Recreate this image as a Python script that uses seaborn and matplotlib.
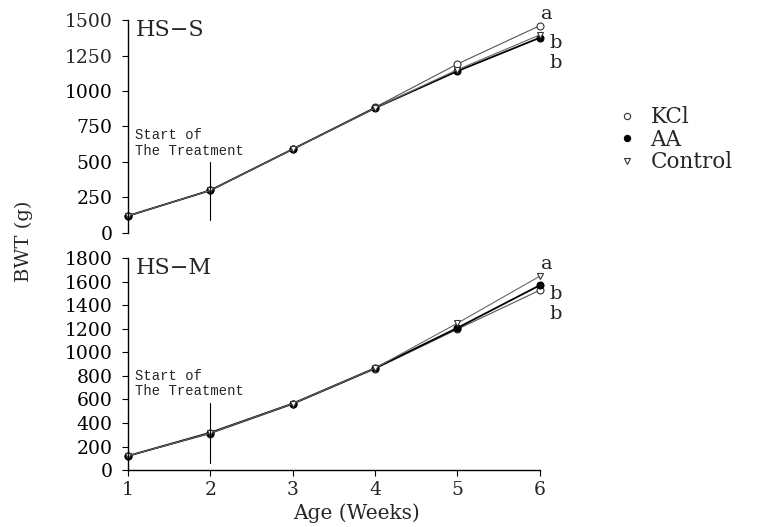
import matplotlib
matplotlib.use("Agg")
import matplotlib.pyplot as plt
from matplotlib.lines import Line2D
import seaborn as sns
import pandas as pd

weeks = [1, 2, 3, 4, 5, 6]
hss_kcl = [120, 300, 590, 885, 1190, 1460]
hss_aa = [120, 300, 590, 880, 1140, 1375]
hss_control = [120, 300, 590, 880, 1150, 1395]
hsm_kcl = [120, 310, 560, 860, 1197, 1528]
hsm_aa = [120, 318, 565, 866, 1208, 1570]
hsm_control = [120, 315, 565, 866, 1248, 1647]
series_names = ["KCl", "AA", "Control"]
hss_letters = ["a", "b", "b"]
hsm_letters = ["a", "b", "b"]

sns.set_theme(style="white")
plt.rcParams['font.family'] = ['DejaVu Serif', 'DejaVu Sans']

fig = plt.figure(figsize=(7.8, 5.27), dpi=100)
ax1 = fig.add_axes([0.164, 0.558, 0.528, 0.404])
ax2 = fig.add_axes([0.164, 0.108, 0.528, 0.402])

styles = {
    "KCl": dict(color="#555555", lw=0.8, marker="o", mfc="white", mec="#333333", ms=5, mew=0.8),
    "AA": dict(color="black", lw=1.3, marker="o", mfc="black", mec="black", ms=5, mew=0.8),
    "Control": dict(color="#666666", lw=0.8, marker="v", mfc="white", mec="#333333", ms=5, mew=0.8),
}

def draw(ax, vals):
    for name, v in zip(series_names, vals):
        df = pd.DataFrame({"Week": weeks, "BWT": v})
        st = styles[name]
        sns.lineplot(data=df, x="Week", y="BWT", ax=ax, color=st["color"], linewidth=st["lw"],
                     marker=st["marker"], markerfacecolor=st["mfc"], markeredgecolor=st["mec"],
                     markersize=st["ms"], markeredgewidth=st["mew"], clip_on=False, legend=False)

draw(ax1, [hss_kcl, hss_aa, hss_control])
draw(ax2, [hsm_kcl, hsm_aa, hsm_control])

for ax in (ax1, ax2):
    ax.set_xlim(1, 6)
    ax.spines['top'].set_visible(False)
    ax.spines['right'].set_visible(False)
    ax.spines['left'].set_linewidth(1.0)
    ax.spines['left'].set_color('black')
    ax.set_xlabel("")
    ax.set_ylabel("")
    ax.tick_params(axis='y', direction='out', length=4, width=0.8, color='black', labelsize=13.5, pad=7, left=True)
    for lab in ax.get_yticklabels():
        lab.set_color('black')

ax1.set_ylim(0, 1500)
ax1.set_yticks([0, 250, 500, 750, 1000, 1250, 1500])
ax1.spines['bottom'].set_visible(False)
ax1.set_xticks([])
ax2.set_ylim(0, 1800)
ax2.set_yticks(range(0, 1801, 200))
ax2.spines['bottom'].set_linewidth(1.0)
ax2.spines['bottom'].set_color('black')
ax2.set_xticks(weeks)
ax2.tick_params(axis='x', direction='out', length=4, width=0.8, color='black', labelsize=13.5, pad=4, bottom=True)

# treatment markers
ax1.plot([2, 2], [90, 500], color='black', lw=0.8)
ax2.plot([2, 2], [60, 570], color='black', lw=0.8)
ax1.text(1.09, 640, "Start of", fontsize=10, va='bottom', ha='left', family=['Liberation Mono'])
ax1.text(1.09, 530, "The Treatment", fontsize=10, va='bottom', ha='left', family=['Liberation Mono'])
ax2.text(1.09, 740, "Start of", fontsize=10, va='bottom', ha='left', family=['Liberation Mono'])
ax2.text(1.09, 610, "The Treatment", fontsize=10, va='bottom', ha='left', family=['Liberation Mono'])

ax1.text(1.1, 1430, "HS\u2212S", fontsize=16, va='center', ha='left')
ax2.text(1.1, 1720, "HS\u2212M", fontsize=16, va='center', ha='left')

for ax, ys, letters in ((ax1, [1545, 1340, 1200], hss_letters), (ax2, [1750, 1500, 1330], hsm_letters)):
    for i, (y, l) in enumerate(zip(ys, letters)):
        ax.text(6.02 + (0.1 if i > 0 else 0), y, l, fontsize=14, va='center', ha='left', clip_on=False)

fig.text(0.031, 0.543, "BWT (g)", rotation=90, fontsize=14, va='center', ha='center')
fig.text(0.457, 0.026, "Age (Weeks)", fontsize=14.5, va='center', ha='center')

handles = []
for name in series_names:
    st = styles[name]
    handles.append(Line2D([], [], linestyle='none', marker=st["marker"], markerfacecolor=st["mfc"],
                          markeredgecolor=st["mec"], markersize=4.5, markeredgewidth=0.8))
fig.legend(handles, series_names, loc='center left', bbox_to_anchor=(0.765, 0.735), frameon=False,
           handletextpad=0.6, labelspacing=0.02, handlelength=1.0,
           prop={'family': ['DejaVu Serif'], 'size': 15.5})

fig.savefig("out.png", dpi=100, facecolor='white')
